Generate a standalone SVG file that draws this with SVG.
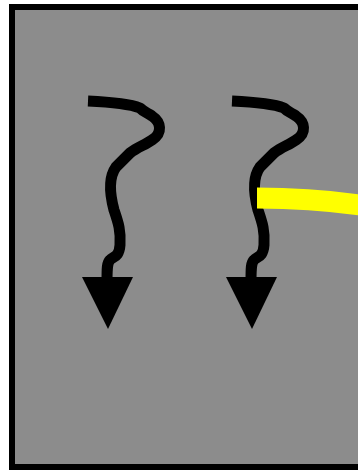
<svg xmlns="http://www.w3.org/2000/svg" xmlns:xlink="http://www.w3.org/1999/xlink" width="358" height="471" viewBox="0 0 358 471">
  <style>
    .frame { fill: #8c8c8c; stroke: #000; stroke-width: 6; }
    .squiggle { fill: none; stroke: #000; stroke-width: 11; stroke-linecap: butt; stroke-linejoin: round; }
    .head { fill: #000; }
    .yellow { fill: none; stroke: #ffff00; stroke-width: 21; stroke-linecap: butt; }
  </style>
  <defs>
    <g id="squiggle-arrow">
      <path class="squiggle" d="M88,101 C110,102 130,104 140,108 C145,113 148,113 152,116 C161,122 163,133 152,140 C145,145 138,147 130,153 L116,167 C108,178 110,195 114,210 C118,222 121,230 120,245 C119,258 113,256 110,260 C107,263 107,268 107,282"/>
      <polygon class="head" points="82,277 133,277 108,329"/>
    </g>
  </defs>
  <g id="background">
    <rect class="frame" x="12" y="7" width="360" height="460"/>
  </g>
  <g id="connectors">
    <g id="arrow-1"><use xlink:href="#squiggle-arrow"/></g>
    <g id="arrow-2"><use xlink:href="#squiggle-arrow" transform="translate(144,0)"/></g>
    <g id="yellow-line"><path class="yellow" d="M257,198 Q310,198 360,205"/></g>
  </g>
</svg>
